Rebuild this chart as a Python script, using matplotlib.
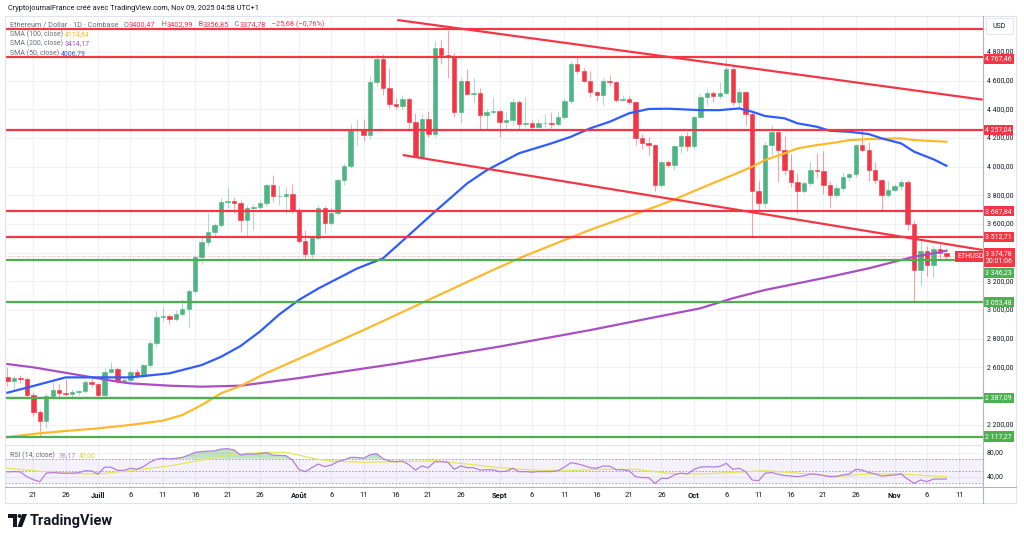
import numpy as np
import pandas as pd
import matplotlib
matplotlib.use('Agg')
import matplotlib.pyplot as plt
import matplotlib.dates as mdates
from matplotlib.transforms import blended_transform_factory
from matplotlib.patches import Rectangle, Polygon, Circle

plt.rcParams['font.family'] = ['Roboto', 'DejaVu Sans']

# ETH/USD daily candles, 17 Jun -> 9 Nov 2025
opens = [2535, 2505, 2525, 2520, 2405, 2290, 2225, 2400, 2445, 2420, 2415, 2425, 2435, 2500,
         2485, 2405, 2570, 2590, 2505, 2515, 2570, 2540, 2615, 2770, 2950, 2960, 2940, 2970, 3010, 3135,
         3370, 3475, 3545, 3590, 3755, 3760, 3745, 3630, 3710, 3720, 3745, 3870, 3795, 3795, 3810,
         3695, 3485, 3390, 3500, 3715, 3610, 3680, 3905, 4005, 4255, 4260, 4220, 4590, 4750, 4550,
         4440, 4425, 4470, 4315, 4070, 4335, 4225, 4830, 4780, 4775, 4380, 4600, 4510, 4512, 4360, 4385,
         4390, 4310, 4325, 4450, 4300, 4305, 4275, 4305, 4305, 4300, 4345, 4460, 4715, 4670, 4600,
         4525, 4500, 4595, 4590, 4465, 4475, 4450, 4200, 4165, 4155, 3870, 4030, 4015, 4145, 4215,
         4145, 4350, 4485, 4515, 4495, 4515, 4685, 4450, 4525, 4370, 3830, 3750, 4150, 4245, 4120,
         3980, 3890, 3830, 3885, 3975, 3970, 3875, 3805, 3855, 3930, 3950, 4150, 4115, 3975, 3905, 3800,
         3840, 3865, 3895, 3600, 3280, 3415, 3315, 3425, 3400.47]
highs = [2600, 2540, 2545, 2535, 2425, 2300, 2420, 2500, 2485, 2520, 2450, 2445, 2510, 2525,
         2490, 2595, 2640, 2600, 2525, 2580, 2585, 2625, 2790, 2990, 3020, 2975, 3000, 3080, 3150, 3385,
         3520, 3680, 3610, 3780, 3860, 3790, 3770, 3730, 3740, 3765, 3880, 3940, 3870, 3860, 3880,
         3710, 3560, 3510, 3735, 3725, 3720, 3920, 4025, 4300, 4330, 4330, 4630, 4790, 4785, 4690,
         4480, 4500, 4485, 4375, 4370, 4390, 4880, 4885, 4956, 4795, 4620, 4680, 4620, 4550, 4400, 4490,
         4400, 4380, 4480, 4465, 4485, 4325, 4330, 4370, 4385, 4390, 4470, 4740, 4765, 4690, 4670,
         4530, 4620, 4640, 4600, 4500, 4495, 4455, 4230, 4210, 4160, 4040, 4050, 4150, 4230, 4240,
         4360, 4510, 4540, 4530, 4590, 4755, 4700, 4550, 4530, 4390, 3900, 4175, 4290, 4250, 4215,
         4090, 3955, 3900, 4030, 4095, 4110, 3900, 3880, 3960, 3955, 4160, 4255, 4170, 4030, 3915, 3900,
         3880, 3915, 3910, 3630, 3480, 3445, 3450, 3460, 3402.99]
lows = [2470, 2450, 2490, 2385, 2260, 2112, 2175, 2375, 2380, 2400, 2380, 2410, 2420, 2465,
        2390, 2390, 2560, 2490, 2495, 2500, 2520, 2530, 2600, 2740, 2920, 2900, 2920, 2960, 2880, 3110,
        3320, 3450, 3520, 3580, 3710, 3680, 3545, 3510, 3560, 3700, 3725, 3760, 3730, 3680, 3680,
        3470, 3360, 3355, 3490, 3540, 3590, 3660, 3870, 3990, 4150, 4180, 4195, 4560, 4500, 4410,
        4400, 4400, 4250, 4065, 4060, 4205, 4210, 4720, 4620, 4350, 4310, 4500, 4450, 4260, 4260, 4370,
        4205, 4260, 4290, 4265, 4275, 4255, 4270, 4275, 4270, 4285, 4330, 4440, 4650, 4590, 4490,
        4460, 4430, 4560, 4450, 4460, 4435, 4150, 4125, 4080, 3830, 3860, 3995, 3980, 4095, 4110,
        4125, 4340, 4430, 4450, 4470, 4505, 4430, 4410, 4290, 3500, 3700, 3720, 4080, 3890, 3940,
        3860, 3680, 3820, 3865, 3920, 3810, 3710, 3785, 3830, 3900, 3930, 4100, 3900, 3880, 3690, 3790,
        3830, 3840, 3560, 3055, 3170, 3240, 3230, 3350, 3356.85]
closes = [2505, 2525, 2520, 2405, 2290, 2225, 2400, 2445, 2420, 2415, 2425, 2435, 2500, 2485,
          2405, 2570, 2590, 2505, 2515, 2570, 2540, 2615, 2770, 2950, 2960, 2940, 2970, 3010, 3135, 3370,
          3475, 3545, 3590, 3755, 3760, 3745, 3630, 3710, 3720, 3745, 3870, 3795, 3795, 3810, 3695,
          3485, 3390, 3500, 3715, 3610, 3680, 3905, 4005, 4255, 4260, 4220, 4590, 4750, 4550, 4440,
          4425, 4470, 4315, 4070, 4335, 4225, 4830, 4780, 4775, 4380, 4600, 4510, 4512, 4360, 4385, 4390,
          4310, 4325, 4450, 4300, 4305, 4275, 4305, 4305, 4300, 4345, 4460, 4715, 4670, 4600, 4525,
          4500, 4595, 4590, 4465, 4475, 4450, 4200, 4165, 4155, 3870, 4030, 4015, 4145, 4215, 4145,
          4350, 4485, 4515, 4495, 4515, 4685, 4450, 4525, 4370, 3830, 3750, 4150, 4245, 4120, 3980,
          3890, 3830, 3885, 3975, 3970, 3875, 3805, 3855, 3930, 3950, 4150, 4115, 3975, 3905, 3800, 3840,
          3865, 3895, 3600, 3280, 3415, 3315, 3425, 3400, 3374.78]

# RSI(14) and its moving average, one value per day
rsi = [48, 48.5, 48, 40, 35, 31.7, 45.7, 47, 46, 45.7, 46, 46.5, 50, 49.5,
       44.5, 55.7, 56, 50.5, 50.5, 54, 52.5, 56.7, 64, 69, 70.6, 69.5, 70.6, 72, 76, 80.5,
       81.7, 82.5, 83, 86, 86.7, 84.5, 76, 77.8, 77.5, 78.5, 80, 76, 75.5, 75, 67.8,
       52.3, 48.3, 55, 61, 56.7, 59.5, 65, 68, 72.3, 72, 70.6, 76.7, 78.3, 70, 66,
       65, 66, 60, 51, 57.8, 55, 65, 65, 64, 52.3, 57.8, 55, 55, 51, 51.5, 51.5,
       48.3, 49, 54, 48.3, 48.5, 47.5, 48.5, 48.5, 48.5, 50, 55.7, 63.3, 61.5, 58.5, 55,
       54, 57.8, 57.5, 51.5, 51.5, 50, 40, 38.5, 38.5, 29, 37.3, 37, 43, 46, 44.5,
       52, 56, 56.7, 56, 57, 62.3, 52.3, 54, 48.3, 34.5, 33.3, 45.7, 47, 44, 42,
       41, 40, 41.5, 44.5, 44, 42, 40, 40.5, 43, 44.5, 52.3, 51, 47, 44.5, 41, 42,
       43, 44.5, 36, 29, 34.5, 31.7, 36, 36, 36.17]
rsi_ma_day = [0, 4, 9, 14, 19, 25, 30, 35, 40, 43, 45, 48, 50, 55, 61, 66, 71, 76, 81, 86,
              92, 97, 102, 107, 112, 117, 122, 128, 133, 138, 143, 145]
rsi_ma = [54, 50, 45.7, 44.5, 50, 57.8, 67.8, 77.8, 80.5, 80.5, 76, 69, 66, 64, 65, 66.7, 61, 55, 51, 50,
          52.3, 52.3, 45.7, 44.5, 47, 50, 46, 40.3, 44.5, 44.5, 41, 40]

# moving averages (day offset from 17 Jun, value)
sma50_day = [0, 4, 9, 14, 19, 25, 30, 33, 36, 39, 42, 45, 48, 51, 54, 58, 62, 66, 71, 74, 79, 84, 87,
             90, 93, 96, 99, 102, 107, 110, 113, 115, 117, 120, 122, 125, 127, 130, 133, 135, 138, 140, 143, 145]
sma50 = [2423, 2470, 2530, 2530, 2530, 2558, 2616, 2674, 2749, 2850, 2970, 3070, 3150, 3220, 3290, 3361,
         3523, 3686, 3884, 3975, 4094, 4163, 4209, 4268, 4314, 4373, 4403, 4405, 4395, 4395, 4407, 4384,
         4354, 4338, 4303, 4279, 4251, 4244, 4228, 4198, 4163, 4105, 4052, 4006.79]
sma100_day = [0, 5, 9, 14, 19, 24, 27, 30, 33, 36, 40, 45, 50, 55, 60, 65, 70, 75, 80, 85, 90, 95, 100,
              103, 107, 110, 112, 115, 117, 120, 122, 125, 128, 130, 133, 138, 140, 143, 145]
sma100 = [2113, 2140, 2156, 2174, 2198, 2228, 2267, 2337, 2419, 2470, 2560, 2660, 2760, 2860, 2965, 3070,
          3175, 3280, 3380, 3470, 3560, 3640, 3720, 3772, 3849, 3905, 3942, 4000, 4047, 4093, 4128, 4151,
          4170, 4186, 4193, 4198, 4186, 4179, 4174.64]
sma200_day = [0, 4, 9, 14, 17, 19, 25, 30, 36, 45, 60, 76, 90, 100, 107, 112, 117, 122, 127, 133, 138,
              140, 143, 145]
sma200 = [2623, 2600, 2562, 2523, 2500, 2488, 2472, 2465, 2472, 2525, 2625, 2745, 2860, 2950, 3012, 3082,
          3140, 3186, 3232, 3291, 3349, 3372, 3396, 3414.17]

# drawings
red_levels = [4960, 4767.46, 4257.04, 3687.84, 3512.71]
green_levels = [3346.23, 3053.48, 2387.09, 2117.27]
upper_trend_day = [60.2, 150.6]
upper_trend = [5024, 4468]
lower_trend_day = [61.05, 150.6]
lower_trend = [4082, 3419]
last_price = 3374.78

# 2 400 and 3 400 sit under the level boxes in the reference
price_ticks = [2200, 2600, 2800, 3000, 3200, 3600, 3800, 4000, 4200, 4400, 4600, 4800]
grid_prices = [2200, 2400, 2600, 2800, 3000, 3200, 3400, 3600, 3800, 4000, 4200, 4400, 4600, 4800]
tick_dates = ['2025-06-21', '2025-06-26', '2025-07-01', '2025-07-06', '2025-07-11', '2025-07-16',
              '2025-07-21', '2025-07-26', '2025-08-01', '2025-08-06', '2025-08-11', '2025-08-16',
              '2025-08-21', '2025-08-26', '2025-09-01', '2025-09-06', '2025-09-11', '2025-09-16',
              '2025-09-21', '2025-09-26', '2025-10-01', '2025-10-06', '2025-10-11', '2025-10-16',
              '2025-10-21', '2025-10-26', '2025-11-01', '2025-11-06', '2025-11-11']
tick_labels = ['21', '26', 'Juill', '6', '11', '16', '21', '26', 'Août', '6', '11', '16', '21', '26',
               'Sept', '6', '11', '16', '21', '26', 'Oct', '6', '11', '16', '21', '26', 'Nov', '6', '11']
months = ['Juill', 'Août', 'Sept', 'Oct', 'Nov']

UP = '#4cb583'
DOWN = '#f23645'
RED = '#f23645'
GREEN = '#4caf50'
GRID = '#eef1f7'
TXT = '#131722'
GRAY = '#6a6d78'

dates = pd.date_range('2025-06-17', periods=len(closes), freq='D')
x = mdates.date2num(dates)
x0 = x[0]
o = np.array(opens); h = np.array(highs); l = np.array(lows); c = np.array(closes)


def px(x_a, y_a, x_b, y_b):
    return [x_a / 1024, 1 - y_b / 538, (x_b - x_a) / 1024, (y_b - y_a) / 538]


fig = plt.figure(figsize=(10.24, 5.38), dpi=100)
fig.patch.set_facecolor('white')

# price pane
ax = fig.add_axes(px(5, 17, 982.7, 444))
xl = (mdates.date2num(pd.Timestamp('2025-06-21')) - 4.37, mdates.date2num(pd.Timestamp('2025-06-21')) + 146.6)
ax.set_xlim(xl)
ax.set_ylim(2065, 5045)
ax.axis('off')

tick_x = mdates.date2num(pd.to_datetime(tick_dates))
for t in tick_x:
    ax.axvline(t, color=GRID, lw=0.8, zorder=0)
for p in grid_prices:
    ax.axhline(p, color=GRID, lw=0.8, zorder=0)

# candles
col = np.where(c >= o, UP, DOWN)
ax.vlines(x, l, h, colors=col, lw=0.8, alpha=0.45, zorder=2)
ax.bar(x, c - o, bottom=o, width=0.68, color=col, edgecolor=col, linewidth=0.4, zorder=2)

# moving averages
ax.plot(x0 + np.array(sma200_day), sma200, color='#a94fc4', lw=1.6, zorder=3)
ax.plot(x0 + np.array(sma100_day), sma100, color='#fdb92c', lw=1.6, zorder=3)
ax.plot(x0 + np.array(sma50_day), sma50, color='#2f5cff', lw=1.6, zorder=3)

# drawings
for lv in red_levels:
    ax.axhline(lv, color=RED, lw=1.6, zorder=4)
for lv in green_levels:
    ax.axhline(lv, color=GREEN, lw=1.6, zorder=4)
ax.plot(x0 + np.array(upper_trend_day), upper_trend, color=RED, lw=1.6, zorder=4, solid_capstyle='butt')
ax.plot(x0 + np.array(lower_trend_day), lower_trend, color=RED, lw=1.6, zorder=4, solid_capstyle='butt')
ax.axhline(last_price, color=RED, lw=0.6, ls=(0, (1, 2)), alpha=0.6, zorder=3)


def fmt(v):
    return f"{v:,.2f}".replace(',', ' ').replace('.', ',')


tr = blended_transform_factory(ax.transAxes, ax.transData)
lab_x = (987 - 5) / 977.7
box_x = (985.5 - 5) / 977.7
for p in price_ticks:
    ax.text(lab_x, p, fmt(p), transform=tr, fontsize=5, color=TXT, va='center', ha='left', clip_on=False, zorder=5)
box_labels = [(4767.46, 4752, RED), (4257.04, 4257.04, RED), (3687.84, 3687.84, RED),
              (3512.71, 3512.71, RED), (3346.23, 3258, GREEN), (3053.48, 3053.48, GREEN),
              (2387.09, 2387.09, GREEN), (2117.27, 2117.27, GREEN)]
for val, ypos, cc in box_labels:
    ax.text(box_x, ypos, fmt(val), transform=tr, fontsize=5, color='white', va='center', ha='left',
            clip_on=False, zorder=6, bbox=dict(boxstyle='square,pad=0.22', fc=cc, ec='none'))
ax.text(box_x, 3366, fmt(last_price) + '\n20:01:06', transform=tr, fontsize=5, color='white', va='center',
        ha='left', linespacing=1.25, clip_on=False, zorder=6,
        bbox=dict(boxstyle='square,pad=0.3', fc=RED, ec='none'))
ax.text((957.5 - 5) / 977.7, last_price, 'ETHUSD', transform=tr, fontsize=5, color='white', va='center',
        ha='left', zorder=6, bbox=dict(boxstyle='square,pad=0.3', fc=RED, ec='none'))

# RSI pane
axr = fig.add_axes(px(5, 444, 982.7, 486.7))
axr.set_xlim(xl)
axr.set_ylim(23.3, 94.5)
for s in axr.spines.values():
    s.set_visible(False)
axr.set_yticks([])
for t in tick_x:
    axr.axvline(t, color=GRID, lw=0.8, zorder=0)
axr.axhline(80, color=GRID, lw=0.8, zorder=0)
axr.axhline(40, color=GRID, lw=0.8, zorder=0)
axr.axhspan(30, 70, color='#7e57c2', alpha=0.08, lw=0, zorder=1)
for lv in [70, 50, 30]:
    axr.axhline(lv, color='#9598a1', lw=0.6, ls=(0, (2, 2)), zorder=2)
rsi_a = np.array(rsi)
axr.fill_between(x, 70, rsi_a, where=rsi_a > 70, interpolate=True, color='#4caf50', alpha=0.35, lw=0, zorder=2)
axr.plot(x0 + np.array(rsi_ma_day), rsi_ma, color='#e6e65a', lw=0.9, zorder=3)
axr.plot(x, rsi_a, color='#b57edc', lw=0.9, zorder=4)
axr.set_xticks(tick_x)
axr.set_xticklabels(tick_labels, fontsize=5.5, color=TXT)
for lab in axr.get_xticklabels():
    if lab.get_text() in months:
        lab.set_fontweight('bold')
axr.tick_params(axis='x', length=0, pad=4)
trr = blended_transform_factory(axr.transAxes, axr.transData)
axr.text(lab_x, 80, '80,00', transform=trr, fontsize=5, color=TXT, va='center', ha='left', clip_on=False)
axr.text(lab_x, 40, '40,00', transform=trr, fontsize=5, color=TXT, va='center', ha='left', clip_on=False)

# overlay: frame, header, legend, logo
ov = fig.add_axes([0, 0, 1, 1])
ov.set_xlim(0, 1024)
ov.set_ylim(538, 0)
ov.axis('off')
ov.add_patch(Rectangle((5, 16), 1011, 487, fill=False, ec='#e0e3eb', lw=0.8))
ov.plot([982.7, 982.7], [16, 503], color='#b2b5be', lw=0.8)
ov.plot([5, 1016], [486.7, 486.7], color='#b2b5be', lw=0.8)
ov.plot([5, 982.7], [444.5, 444.5], color='#e0e3eb', lw=0.8)
ov.add_patch(Rectangle((986, 18), 27, 16, fc='white', ec='#e0e3eb', lw=0.6))
ov.text(999.5, 26, 'USD', fontsize=5, color=TXT, ha='center', va='center')

ov.text(8, 8, 'CryptojournalFrance créé avec TradingView.com, Nov 09, 2025 04:58 UTC+1',
        fontsize=5.3, color=TXT, va='center', ha='left')


def chain(parts, xs, ys, size=5):
    prev = ov.text(xs, ys, parts[0][0], color=parts[0][1], fontsize=size, va='bottom', ha='left')
    for txt, cc in parts[1:]:
        prev = ov.annotate(txt, xy=(1, 0), xycoords=prev, color=cc, fontsize=size, va='bottom', ha='left')


chain([('Ethereum / Dollar · 1D · Coinbase   O', GRAY), ('3400,47', RED), ('   H', GRAY), ('3402,99', RED),
       ('   B', GRAY), ('3356,85', RED), ('   C', GRAY), ('3374,78', RED), ('   −25,68 (−0,76%)', RED)],
      10, 28.5, 5.3)
chain([('SMA (100, close) ', GRAY), ('4174,64', '#fdb92c')], 10, 38)
chain([('SMA (200, close) ', GRAY), ('3414,17', '#a94fc4')], 10, 47.5)
chain([('SMA (50, close) ', GRAY), ('4006,79', '#2f5cff')], 10, 57)
chain([('RSI (14, close)  ', GRAY), ('36,17', '#b57edc'), ('  ', GRAY), ('40,00', '#d8d840')], 10, 459)

# TradingView logo
ov.add_patch(Polygon([(8, 514), (17, 514), (17, 527), (13, 527), (13, 518), (8, 518)], closed=True,
                     fc='#131722', ec='none'))
ov.add_patch(Circle((19.5, 516), 1.9, fc='#131722', ec='none'))
ov.add_patch(Polygon([(22, 514), (27, 514), (22, 527), (17.5, 527)], closed=True, fc='#131722', ec='none'))
ov.text(30, 520.5, 'TradingView', fontsize=10.5, fontweight='bold', color='#131722', va='center', ha='left')

fig.savefig('out.png', dpi=100)
